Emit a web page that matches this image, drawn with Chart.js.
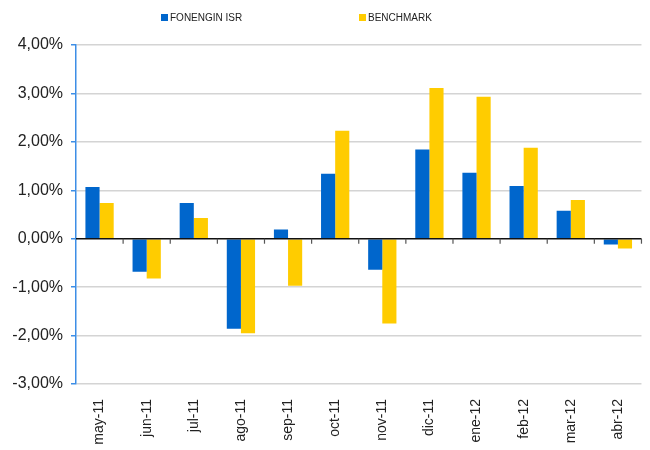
<!DOCTYPE html>
<html>
<head>
<meta charset="utf-8">
<script src="https://cdn.jsdelivr.net/npm/chart.js@4.4.1/dist/chart.umd.min.js"></script>
<style>
  html, body { margin: 0; padding: 0; background: #fff; }
  #wrap { width: 650px; height: 450px; }
</style>
</head>
<body>
<div id="wrap"><canvas id="grafico"></canvas></div>
<script>
// datos (rentabilidad mensual, %)
var meses = ["may-11", "jun-11", "jul-11", "ago-11", "sep-11", "oct-11", "nov-11", "dic-11", "ene-12", "feb-12", "mar-12", "abr-12"];
var fonengin = [1.07, -0.68, 0.74, -1.86, 0.19, 1.34, -0.64, 1.84, 1.36, 1.09, 0.58, -0.12];
var benchmark = [0.74, -0.82, 0.43, -1.95, -0.97, 2.23, -1.75, 3.11, 2.93, 1.88, 0.80, -0.20];
var ejeMin = -3;
var ejeMax = 4;

var fuente = "'Liberation Sans', Arial, Helvetica, sans-serif";

// leyenda dibujada a mano (posiciones del original)
var leyenda = {
  id: 'leyenda',
  afterDraw: function (chart) {
    var ctx = chart.ctx;
    var xs = [161, 359];
    ctx.save();
    ctx.font = "10px " + fuente;
    ctx.textBaseline = 'middle';
    chart.data.datasets.forEach(function (ds, i) {
      ctx.fillStyle = ds.backgroundColor;
      ctx.fillRect(xs[i], 14, 7, 7);
      ctx.fillStyle = '#222';
      ctx.fillText(ds.label, xs[i] + 9, 18);
    });
    ctx.restore();
  }
};

// linea del cero con marcas entre categorias
var lineaCero = {
  id: 'lineaCero',
  afterDatasetsDraw: function (chart) {
    var ctx = chart.ctx;
    var x = chart.scales.x;
    var y0 = chart.scales.y.getPixelForValue(0);
    var paso = x.width / meses.length;
    ctx.save();
    ctx.strokeStyle = '#111';
    ctx.lineWidth = 1.5;
    ctx.beginPath();
    ctx.moveTo(x.left, y0);
    ctx.lineTo(x.right, y0);
    ctx.stroke();
    ctx.lineWidth = 1.2;
    ctx.strokeStyle = '#555';
    for (var i = 1; i <= meses.length; i++) {
      var px = x.left + i * paso;
      ctx.beginPath();
      ctx.moveTo(px, y0);
      ctx.lineTo(px, y0 + 5);
      ctx.stroke();
    }
    ctx.restore();
  }
};

var ctx = document.getElementById('grafico');

var chart = new Chart(ctx, {
  type: 'bar',
  data: {
    labels: meses,
    datasets: [{
      label: "FONENGIN ISR",
      backgroundColor: '#0066CC',
      data: fonengin
    }, {
      label: "BENCHMARK",
      backgroundColor: '#FFCC00',
      data: benchmark
    }]
  },
  options: {
    responsive: true,
    maintainAspectRatio: false,
    animation: false,
    layout: { padding: { top: 45, right: 7, left: 0, bottom: 0 } },
    datasets: {
      bar: { categoryPercentage: 0.6, barPercentage: 1.0 }
    },
    plugins: {
      legend: { display: false },
      tooltip: { enabled: false }
    },
    scales: {
      x: {
        grid: { display: false, drawTicks: false },
        border: { display: false },
        ticks: {
          minRotation: 90,
          maxRotation: 90,
          padding: 15,
          color: '#222',
          font: { family: fuente, size: 14 }
        },
        afterFit: function (scale) { scale.height = 66; }
      },
      y: {
        min: ejeMin,
        max: ejeMax,
        border: { display: true, color: '#3d8ee6', width: 1.5 },
        grid: {
          color: function (c) { return c.tick && c.tick.value === 0 ? 'rgba(0,0,0,0)' : '#d4d4d4'; },
          lineWidth: 1.5,
          tickLength: 5,
          tickColor: '#3d8ee6'
        },
        ticks: {
          stepSize: 1,
          padding: 8,
          color: '#222',
          font: { family: fuente, size: 16 },
          callback: function (v) { return v.toFixed(2).replace('.', ',') + '%'; }
        },
        afterFit: function (scale) { scale.width = 76; }
      }
    }
  },
  plugins: [leyenda, lineaCero]
});
</script>
</body>
</html>
